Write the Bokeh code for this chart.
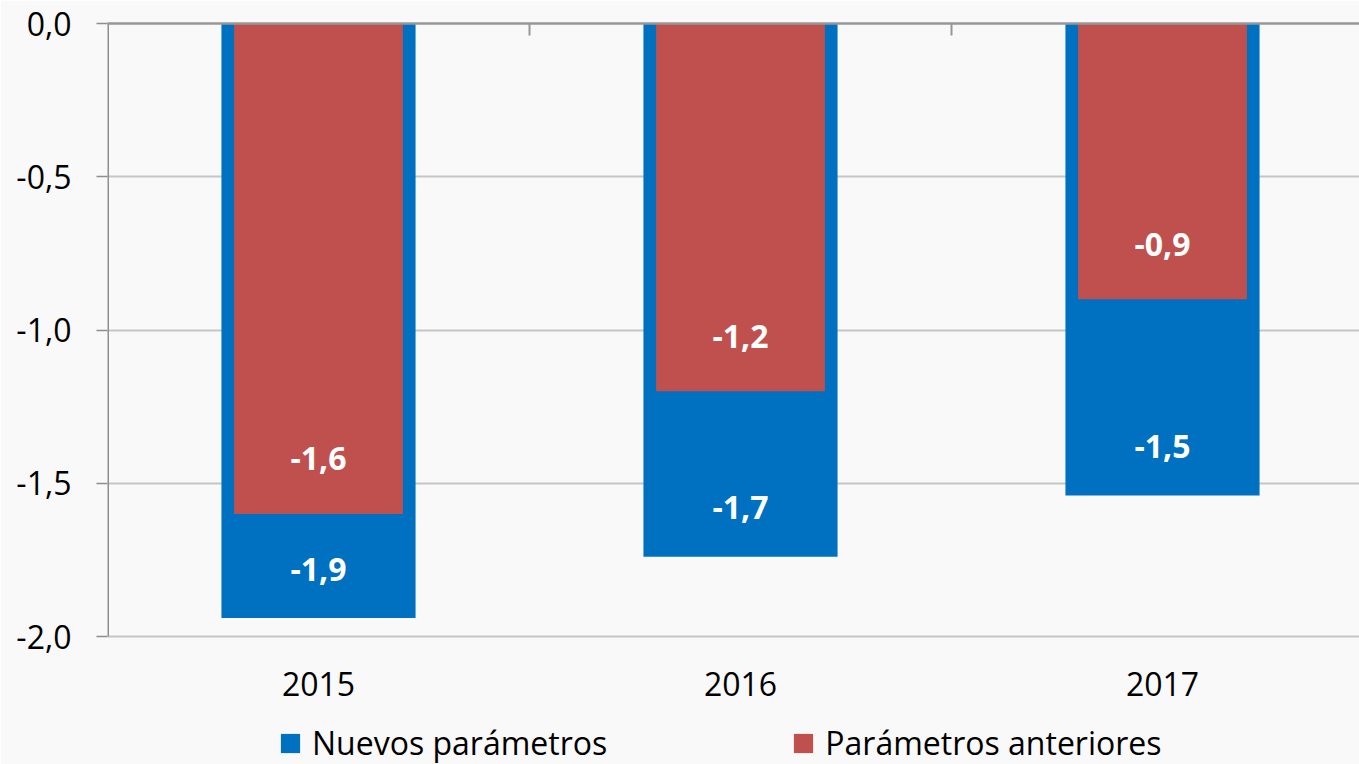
from bokeh.plotting import figure
from bokeh.models import (Range1d, FixedTicker, CustomJSTickFormatter, LinearAxis,
                          Legend, LegendItem, ColumnDataSource)
from bokeh.core.properties import value
from bokeh.embed import file_html
from bokeh.resources import INLINE

# ---- data ----
years = ["2015", "2016", "2017"]
nuevos = [-1.94, -1.74, -1.54]
anteriores = [-1.60, -1.20, -0.90]
nuevos_labels = ["-1,9", "-1,7", "-1,5"]
anteriores_labels = ["-1,6", "-1,2", "-0,9"]
series_names = ["Nuevos parámetros", "Parámetros anteriores"]
y_ticks = [-2.0, -1.5, -1.0, -0.5, 0.0]

# ---- style / layout ----
BLUE = "#0070c0"
RED = "#c0504d"
BG = "#f9f9f9"
AXIS_GRAY = "#8e8e8e"
FONT = "Open Sans"
FS = "32px"
BLUE_OFFSET = 0.16
RED_OFFSET = 0.18

LEFT = 107          # px left of plot area
TOP = 23            # px above plot area
PLOT_W = 1252       # px width of plot area
PLOT_H = 613        # px height of value axis (0 .. -2)
EXTRA_H = 128       # px below the value axis (category labels + legend)
CAT_PX = 422        # px per category
YEAR_LABEL_PX = 47  # px below the axis bottom for the year labels

y_min, y_max = min(y_ticks), max(y_ticks)
px_per_unit = PLOT_H / (y_max - y_min)
y_start = y_min - EXTRA_H / px_per_unit
x_end = PLOT_W / CAT_PX

x = [i + 0.5 for i in range(len(years))]

src = ColumnDataSource(dict(
    x=x,
    nuevos=nuevos,
    anteriores=anteriores,
    nuevos_lbl=nuevos_labels,
    anteriores_lbl=anteriores_labels,
    nuevos_y=[v + BLUE_OFFSET for v in nuevos],
    anteriores_y=[v + RED_OFFSET for v in anteriores],
))
year_src = ColumnDataSource(dict(
    x=x, years=years, y=[y_min - YEAR_LABEL_PX / px_per_unit] * len(years)))

p = figure(frame_width=PLOT_W, frame_height=PLOT_H + EXTRA_H,
           output_backend="svg", toolbar_location=None,
           x_range=Range1d(0, x_end), y_range=Range1d(y_start, y_max),
           x_axis_location=None, y_axis_location=None,
           min_border_left=LEFT, min_border_right=0, min_border_top=TOP,
           min_border_bottom=0)
p.background_fill_color = BG
p.border_fill_color = BG
p.outline_line_color = None

# grid
p.xgrid.visible = False
p.ygrid.ticker = FixedTicker(ticks=y_ticks)
p.ygrid.grid_line_color = "#c6c6c6"
p.ygrid.grid_line_width = 2

# y axis (left) - ticks and labels only, line drawn between 0 and -2
yax = LinearAxis(ticker=FixedTicker(ticks=y_ticks),
                 formatter=CustomJSTickFormatter(code="return tick.toFixed(1).replace('.', ',');"))
yax.axis_line_color = None
yax.major_tick_line_color = AXIS_GRAY
yax.major_tick_line_width = 1.5
yax.major_tick_out = 11
yax.major_tick_in = 0
yax.minor_tick_line_color = None
yax.major_label_standoff = 25
yax.major_label_text_font = FONT
yax.major_label_text_font_size = FS
yax.major_label_text_color = "#000000"
p.add_layout(yax, "left")
p.segment(x0=[0], y0=[y_min], x1=[0], y1=[y_max], line_color=AXIS_GRAY, line_width=3)

# top axis (zero line with category boundary ticks, no labels)
tax = LinearAxis(ticker=FixedTicker(ticks=[1, 2]),
                 major_label_overrides={1: "", 2: ""})
tax.axis_line_color = "#979797"
tax.axis_line_width = 2.5
tax.major_tick_line_color = "#979797"
tax.major_tick_line_width = 2
tax.major_tick_in = 12
tax.major_tick_out = 0
tax.minor_tick_line_color = None
tax.major_label_standoff = 0
p.add_layout(tax, "above")

# bars
rb = p.vbar(x="x", top=0, bottom="nuevos", width=0.46, source=src,
            fill_color=BLUE, line_color=None)
rr = p.vbar(x="x", top=0, bottom="anteriores", width=0.40, source=src,
            fill_color=RED, line_color=None)

# data labels
for col, ycol in (("nuevos_lbl", "nuevos_y"), ("anteriores_lbl", "anteriores_y")):
    p.text(x="x", y=ycol, text=col, source=src, text_align="center",
           text_baseline="middle", text_color="white", text_font=value(FONT),
           text_font_size=FS, text_font_style="bold")

# category labels
p.text(x="x", y="y", text="years", source=year_src, text_align="center",
       text_baseline="middle", text_color="#000000", text_font=value(FONT),
       text_font_size=FS)

legend = Legend(items=[LegendItem(label=series_names[0], renderers=[rb]),
                       LegendItem(label=series_names[1], renderers=[rr])],
                orientation="horizontal", location=(171, 0))
legend.background_fill_alpha = 0
legend.border_line_color = None
legend.label_text_font = FONT
legend.label_text_font_size = FS
legend.label_text_color = "#000000"
legend.glyph_width = 24
legend.glyph_height = 24
legend.label_standoff = 10
legend.spacing = 184
legend.padding = 0
legend.margin = 0
p.add_layout(legend, "center")

open("out.html", "w").write(file_html(p, INLINE))
